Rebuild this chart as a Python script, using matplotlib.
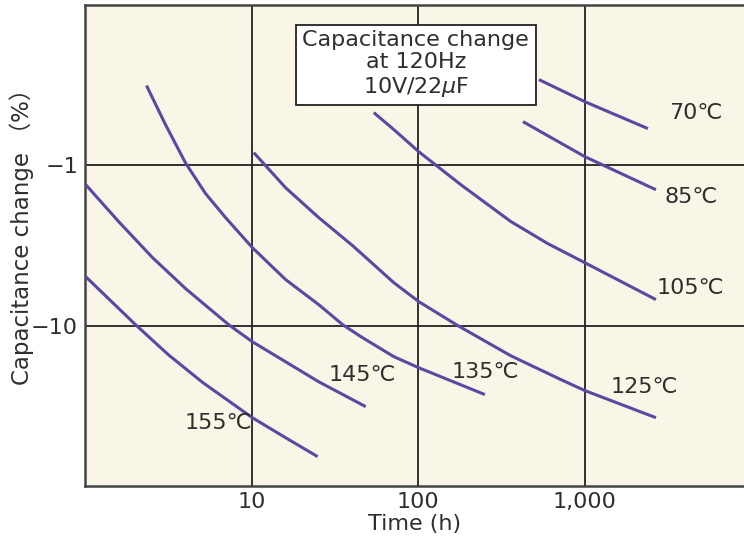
import matplotlib
matplotlib.use("Agg")  # non-interactive backend
import matplotlib.pyplot as plt
import numpy as np

plt.rcParams["font.family"] = ["DejaVu Sans", "Noto Sans CJK JP"]

LINE_HEX = "#5B48A2"
BG_HEX = "#FAF6E7"
TEXT_HEX = "#2E2E2E"

# time (h) / capacitance change (%)
t_70 = [530, 1000, 2390]
c_70 = [-0.292, -0.401, -0.590]

t_85 = [425, 1000, 2670]
c_85 = [-0.534, -0.883, -1.42]

t_105 = [54.1, 71.3, 100.7, 180, 359, 600, 1000, 2670]
c_105 = [-0.469, -0.598, -0.822, -1.32, -2.24, -3.08, -4.05, -6.88]

t_125 = [10.3, 16.0, 25.3, 40.4, 71.3, 100.7, 173, 359, 718, 1000, 2670]
c_125 = [-0.833, -1.38, -2.12, -3.17, -5.39, -7.08, -10.0, -15.4, -21.7, -25.4, -37.5]

t_135 = [2.34, 3.04, 4.02, 5.29, 6.98, 10.1, 16.0, 25.3, 35.2, 45.2, 71.3, 100.7, 251]
c_135 = [-0.318, -0.557, -0.97, -1.50, -2.12, -3.26, -5.16, -7.40, -9.86, -11.7, -15.6, -18.3, -26.9]

t_145 = [1.01, 1.59, 2.54, 4.02, 7.28, 10.1, 16.0, 25.3, 48.4]
c_145 = [-1.32, -2.24, -3.76, -5.88, -9.86, -12.6, -16.8, -22.4, -32.0]

t_155 = [1.01, 2.01, 3.17, 5.08, 10.1, 16.0, 24.9]
c_155 = [-4.95, -9.86, -15.2, -22.6, -37.5, -50.0, -65.6]

series = [
    ("70℃", t_70, c_70, (4640, 0.469)),
    ("85℃", t_85, c_85, (4340, 1.57)),
    ("105℃", t_105, c_105, (4280, 5.79)),
    ("125℃", t_125, c_125, (2260, 24.0)),
    ("135℃", t_135, c_135, (254, 19.4)),
    ("145℃", t_145, c_145, (46.4, 20.2)),
    ("155℃", t_155, c_155, (6.34, 40.3)),
]

x_ticks = [10, 100, 1000]
x_tick_labels = ["10", "100", "1,000"]
y_ticks = [1, 10]
y_tick_labels = ["−1", "−10"]

FS = 16

fig = plt.figure(figsize=(7.44, 5.39), dpi=100)
fig.patch.set_facecolor("white")
ax = fig.add_axes([85 / 744, 53 / 539, 659 / 744, 481 / 539])
ax.set_facecolor(BG_HEX)

for label, t, c, (lx, ly) in series:
    ax.plot(t, np.abs(c), color=LINE_HEX, linewidth=2.2,
            solid_capstyle="butt", solid_joinstyle="round", zorder=3)
    ax.text(lx, ly, label, ha="center", va="center", fontsize=FS, color=TEXT_HEX, zorder=4)

ax.set_xscale("log")
ax.set_yscale("log")
ax.set_xlim(1.0, 10 ** 3.955)
ax.set_ylim(100, 0.1)

ax.set_xticks(x_ticks)
ax.set_xticklabels(x_tick_labels)
ax.set_yticks(y_ticks)
ax.set_yticklabels(y_tick_labels)
ax.minorticks_off()
ax.tick_params(length=0, labelsize=FS, colors=TEXT_HEX)
ax.tick_params(axis="x", pad=4)
ax.tick_params(axis="y", pad=5)

ax.grid(True, color="#222222", linewidth=1.3)
ax.set_axisbelow(True)
for side in ["left", "bottom", "top"]:
    ax.spines[side].set_color("#444444")
    ax.spines[side].set_linewidth(1.8)
ax.spines["right"].set_visible(False)

ax.set_xlabel("Time (h)", fontsize=FS, color=TEXT_HEX)
ax.xaxis.set_label_coords(0.5, -0.058)
ax.set_ylabel("Capacitance change （%）", fontsize=16.5, color=TEXT_HEX)
ax.yaxis.set_label_coords(-0.077, 0.53)

ax.text(
    0.502, 0.877,
    "Capacitance change\nat 120Hz\n10V/22$\\mu$F",
    transform=ax.transAxes, ha="center", va="center",
    fontsize=FS, color=TEXT_HEX, linespacing=1.15, zorder=5,
    bbox=dict(boxstyle="square,pad=0.3", facecolor="white", edgecolor="#222222", linewidth=1.3),
)

fig.savefig("out.png", dpi=100, facecolor="white")
